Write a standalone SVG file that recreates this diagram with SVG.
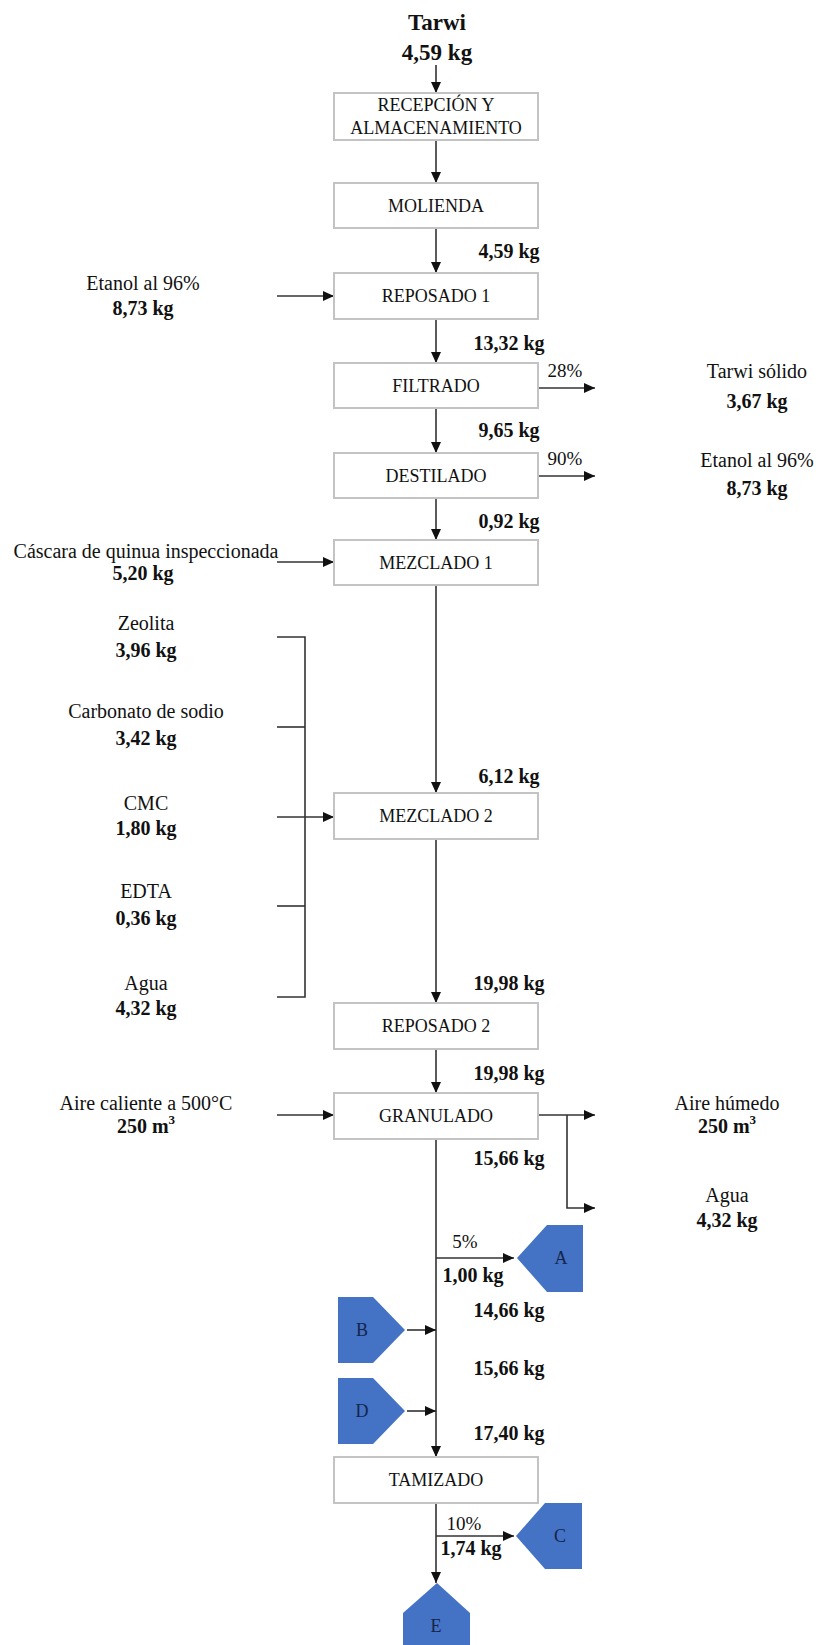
<svg xmlns="http://www.w3.org/2000/svg" width="816" height="1645" viewBox="0 0 816 1645">
<style>
text{font-family:"Liberation Serif","Times New Roman",serif;fill:#111;text-anchor:middle}
.box{fill:#fff;stroke:#c3c3c3;stroke-width:2}
.bl{font-size:18px}
.lbl{font-size:20px}
.kg{font-size:20px;font-weight:bold}
.ttl{font-size:23px;font-weight:bold}
.pct{font-size:19px}
.con{fill:none;stroke:#333;stroke-width:1.6}
.arr{marker-end:url(#ah)}
.pent{fill:#4472C4}
.pl{font-size:18px;fill:#15254a}
</style>
<defs>
<marker id="ah" markerUnits="userSpaceOnUse" markerWidth="11" markerHeight="10" refX="11" refY="5" orient="auto">
<path d="M0,0 L11,5 L0,10 z" fill="#111"/>
</marker>
</defs>
<rect width="816" height="1645" fill="#fff"/>

<g id="connectors">
<path class="con arr" d="M436,65 V93"/>
<path class="con arr" d="M436,140 V183"/>
<path class="con arr" d="M436,228 V273"/>
<path class="con arr" d="M436,319 V363"/>
<path class="con arr" d="M436,408 V453"/>
<path class="con arr" d="M436,498 V540"/>
<path class="con arr" d="M436,585 V793"/>
<path class="con arr" d="M436,839 V1003"/>
<path class="con arr" d="M436,1049 V1093"/>
<path class="con arr" d="M436,1139 V1457"/>
<path class="con arr" d="M436,1503 V1583"/>
<path class="con arr" d="M277,296 H334"/>
<path class="con arr" d="M277,562 H334"/>
<path class="con arr" d="M277,817 H334"/>
<path class="con arr" d="M277,1115 H334"/>
<path class="con" d="M277,637 H305 V997 H277"/>
<path class="con" d="M277,727 H305"/>
<path class="con" d="M277,906 H305"/>
<path class="con arr" d="M538,388 H595"/>
<path class="con arr" d="M538,476 H595"/>
<path class="con arr" d="M538,1115 H595"/>
<path class="con arr" d="M567,1115 V1208 H595"/>
<path class="con arr" d="M436,1258 H514"/>
<path class="con arr" d="M436,1536 H514"/>
<path class="con arr" d="M407,1330 H436"/>
<path class="con arr" d="M407,1411 H436"/>
</g>

<g id="title">
<text class="ttl" x="437" y="30">Tarwi</text>
<text class="ttl" x="437" y="60">4,59 kg</text>
</g>

<g id="n-recepcion"><rect class="box" x="334" y="93" width="204" height="47"/>
<text class="bl" x="436" y="111">RECEPCIÓN Y</text>
<text class="bl" x="436" y="134">ALMACENAMIENTO</text></g>
<g id="n-molienda"><rect class="box" x="334" y="183" width="204" height="45"/>
<text class="bl" x="436" y="212">MOLIENDA</text></g>
<g id="n-reposado1"><rect class="box" x="334" y="273" width="204" height="46"/>
<text class="bl" x="436" y="302">REPOSADO 1</text></g>
<g id="n-filtrado"><rect class="box" x="334" y="363" width="204" height="45"/>
<text class="bl" x="436" y="392">FILTRADO</text></g>
<g id="n-destilado"><rect class="box" x="334" y="453" width="204" height="45"/>
<text class="bl" x="436" y="482">DESTILADO</text></g>
<g id="n-mezclado1"><rect class="box" x="334" y="540" width="204" height="45"/>
<text class="bl" x="436" y="569">MEZCLADO 1</text></g>
<g id="n-mezclado2"><rect class="box" x="334" y="793" width="204" height="46"/>
<text class="bl" x="436" y="822">MEZCLADO 2</text></g>
<g id="n-reposado2"><rect class="box" x="334" y="1003" width="204" height="46"/>
<text class="bl" x="436" y="1032">REPOSADO 2</text></g>
<g id="n-granulado"><rect class="box" x="334" y="1093" width="204" height="46"/>
<text class="bl" x="436" y="1122">GRANULADO</text></g>
<g id="n-tamizado"><rect class="box" x="334" y="1457" width="204" height="46"/>
<text class="bl" x="436" y="1486">TAMIZADO</text></g>

<g id="flow-labels">
<text class="kg" x="509" y="258">4,59 kg</text>
<text class="kg" x="509" y="350">13,32 kg</text>
<text class="kg" x="509" y="437">9,65 kg</text>
<text class="kg" x="509" y="528">0,92 kg</text>
<text class="kg" x="509" y="783">6,12 kg</text>
<text class="kg" x="509" y="990">19,98 kg</text>
<text class="kg" x="509" y="1080">19,98 kg</text>
<text class="kg" x="509" y="1165">15,66 kg</text>
<text class="kg" x="509" y="1317">14,66 kg</text>
<text class="kg" x="509" y="1375">15,66 kg</text>
<text class="kg" x="509" y="1440">17,40 kg</text>
<text class="pct" x="565" y="377">28%</text>
<text class="pct" x="565" y="465">90%</text>
<text class="pct" x="465" y="1248">5%</text>
<text class="kg" x="473" y="1282">1,00 kg</text>
<text class="pct" x="464" y="1530">10%</text>
<text class="kg" x="471" y="1555">1,74 kg</text>
</g>

<g id="inputs">
<text class="lbl" x="143" y="290">Etanol al 96%</text>
<text class="kg" x="143" y="315">8,73 kg</text>
<text class="lbl" x="146" y="558">Cáscara de quinua inspeccionada</text>
<text class="kg" x="143" y="580">5,20 kg</text>
<text class="lbl" x="146" y="630">Zeolita</text>
<text class="kg" x="146" y="657">3,96 kg</text>
<text class="lbl" x="146" y="718">Carbonato de sodio</text>
<text class="kg" x="146" y="745">3,42 kg</text>
<text class="lbl" x="146" y="810">CMC</text>
<text class="kg" x="146" y="835">1,80 kg</text>
<text class="lbl" x="146" y="898">EDTA</text>
<text class="kg" x="146" y="925">0,36 kg</text>
<text class="lbl" x="146" y="990">Agua</text>
<text class="kg" x="146" y="1015">4,32 kg</text>
<text class="lbl" x="146" y="1110">Aire caliente a 500°C</text>
<text class="kg" x="146" y="1133">250 m<tspan dy="-9" font-size="13">3</tspan></text>
</g>

<g id="outputs">
<text class="lbl" x="757" y="378">Tarwi sólido</text>
<text class="kg" x="757" y="408">3,67 kg</text>
<text class="lbl" x="757" y="467">Etanol al 96%</text>
<text class="kg" x="757" y="495">8,73 kg</text>
<text class="lbl" x="727" y="1110">Aire húmedo</text>
<text class="kg" x="727" y="1133">250 m<tspan dy="-9" font-size="13">3</tspan></text>
<text class="lbl" x="727" y="1202">Agua</text>
<text class="kg" x="727" y="1227">4,32 kg</text>
</g>

<g id="n-A"><polygon class="pent" points="517,1258 547,1225 583,1225 583,1292 547,1292"/>
<text class="pl" x="561" y="1264">A</text></g>
<g id="n-B"><polygon class="pent" points="338,1297 373,1297 405,1330 373,1363 338,1363"/>
<text class="pl" x="362" y="1336">B</text></g>
<g id="n-D"><polygon class="pent" points="338,1378 373,1378 405,1411 373,1444 338,1444"/>
<text class="pl" x="362" y="1417">D</text></g>
<g id="n-C"><polygon class="pent" points="516,1536 545,1503 582,1503 582,1569 545,1569"/>
<text class="pl" x="560" y="1542">C</text></g>
<g id="n-E"><polygon class="pent" points="437,1583 470,1613 470,1650 403,1650 403,1613"/>
<text class="pl" x="436" y="1632">E</text></g>
</svg>
